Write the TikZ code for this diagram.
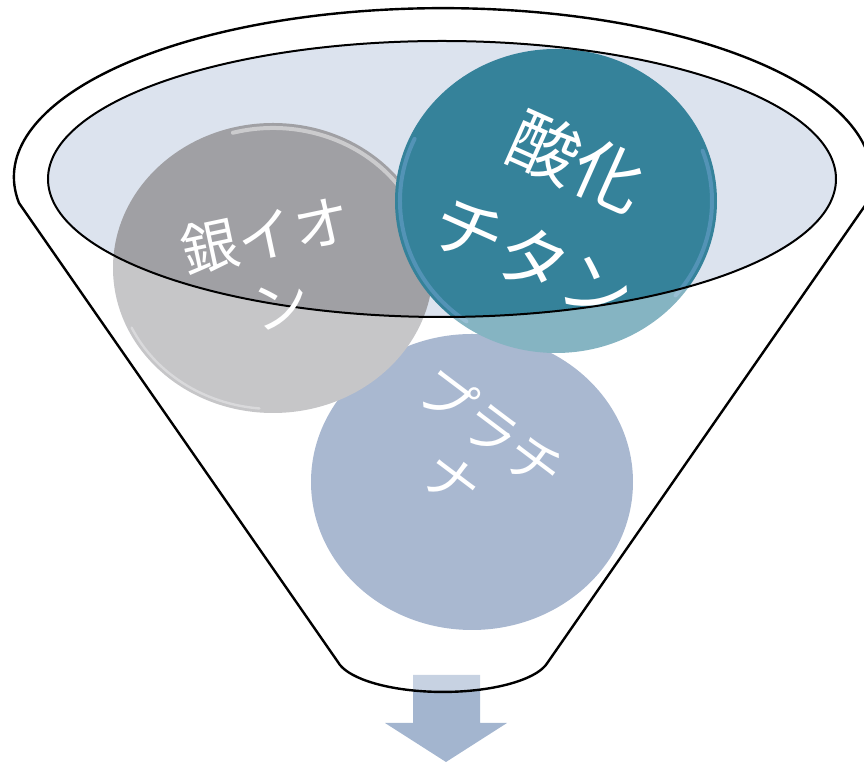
\documentclass[tikz,border=0pt]{standalone}
\usepackage{fontspec}
\newfontfamily\jpfont{Noto Sans CJK JP}
\definecolor{rimblue}{HTML}{DCE3EE}
\definecolor{coingray}{HTML}{A0A0A4}
\definecolor{cointeal}{HTML}{35829A}
\definecolor{coinblue}{HTML}{7089B2}
\definecolor{arrowblue}{HTML}{A3B5CF}
\begin{document}
\begin{tikzpicture}[x=0.5pt,y=0.5pt,
  funnelline/.style={draw=black,line width=1.2pt},
  coinlabel/.style={text=white,align=center,inner sep=0pt}]

\useasboundingbox (0,0) rectangle (864,-763);

\coordinate (top) at (443,-177);
\coordinate (mouth) at (442,-179);
\coordinate (blue) at (472,-482);
\coordinate (gray) at (273,-268);
\coordinate (teal) at (556,-201);

% inside of the funnel mouth
\fill[rimblue] (mouth) ellipse [x radius=394, y radius=138];

% the three coins
\fill[coinblue] (blue) ellipse [x radius=161, y radius=148];
\fill[coingray] (gray) ellipse [x radius=160, y radius=145];
\draw[white!45!coingray,line width=2pt,line cap=round]
  (gray) ++(20:155 and 140) arc[start angle=20, end angle=105, x radius=155, y radius=140];
\draw[white!35!coingray,line width=1.2pt,line cap=round]
  (gray) ++(205:156 and 141) arc[start angle=205, end angle=265, x radius=156, y radius=141];
\fill[cointeal] (teal) ellipse [x radius=161, y radius=152];
\draw[cyan!30!cointeal,line width=2pt,line cap=round]
  (teal) ++(155:156 and 147) arc[start angle=155, end angle=235, x radius=156, y radius=147];
\draw[cyan!30!cointeal,line width=2pt,line cap=round]
  (teal) ++(-40:156 and 147) arc[start angle=-40, end angle=20, x radius=156, y radius=147];

% arrow out of the funnel
\fill[arrowblue] (413,-675) -- (480,-675) -- (480,-723) -- (507,-723)
  -- (446,-762) -- (385,-723) -- (413,-723) -- cycle;

% everything in the cone below the mouth looks faded
\fill[white,opacity=0.4,even odd rule]
  (19,-203) arc[start angle=188.8, end angle=-8.8, x radius=429, y radius=169]
  -- (548,-662) arc[start angle=-11, end angle=-169, x radius=107, y radius=37]
  -- cycle
  (mouth) ellipse [x radius=394, y radius=138];

% funnel outline
\draw[funnelline,line join=round]
  (19,-203) arc[start angle=188.8, end angle=-8.8, x radius=429, y radius=169]
  -- (548,-662) arc[start angle=-11, end angle=-169, x radius=107, y radius=37]
  -- cycle;
\draw[draw=black,line width=1pt] (mouth) ellipse [x radius=394, y radius=138];

% labels
\node[coinlabel,rotate=12,font=\jpfont\fontsize{28.5}{35.5}\selectfont] (grayname) at (gray) {銀イオ\\ン};
\node[coinlabel,rotate=-24,font=\jpfont\fontsize{35}{53.5}\selectfont] (tealname) at ([yshift=-4]teal) {酸化\\チタン};
\node[coinlabel,rotate=-37,font=\jpfont\fontsize{27.5}{32}\selectfont] (bluename) at ([yshift=14]blue) {プラチ\\ナ};

\end{tikzpicture}
\end{document}
